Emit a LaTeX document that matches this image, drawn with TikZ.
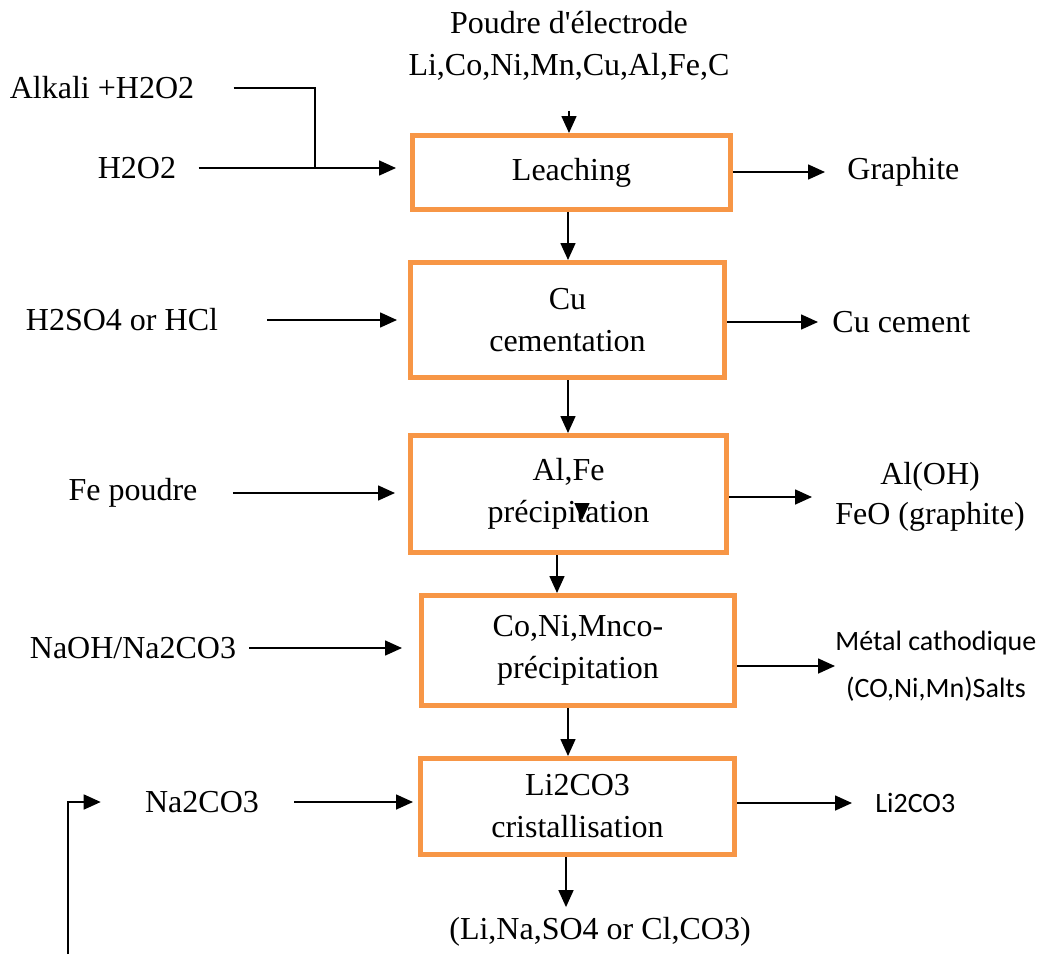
\documentclass[tikz,border=0pt]{standalone}
\usepackage{fontspec}
\setmainfont{Liberation Serif}
\newfontfamily\calibrifont{Carlito}
\usetikzlibrary{arrows.meta,positioning}
\definecolor{StageOrange}{HTML}{F79646}

\begin{document}
\begin{tikzpicture}[x=0.5pt, y=-0.5pt,
  stage/.style={draw=StageOrange, line width=2.5pt, align=center, inner sep=0pt, font=\fontsize{16}{21}\selectfont},
  chem/.style={align=center, inner sep=0pt, font=\fontsize{16}{21}\selectfont},
  chemsans/.style={align=center, inner sep=0pt, font=\calibrifont\fontsize{14}{23.5}\selectfont},
  flow/.style={-{Triangle[length=8.5pt,width=7.5pt]}, line width=0.8pt},
  feed/.style={line width=0.8pt}]
\useasboundingbox (0,0) rectangle (1050,954);
\node[stage, minimum width=159pt, minimum height=37pt] (leach) at (571.5,172.5) {Leaching};
\node[stage, minimum width=157pt, minimum height=57.5pt] (cement) at (567.5,320) {Cu\\cementation};
\node[stage, minimum width=158pt, minimum height=58.5pt] (alfe) at (568.5,494) {Al,Fe\\précipitation};
\node[stage, minimum width=156.5pt, minimum height=55pt] (coni) at (578,650.5) {Co,Ni,Mnco-\\précipitation};
\node[stage, minimum width=157pt, minimum height=48pt] (licr) at (577.5,806.5) {Li2CO3\\cristallisation};
\node[chem] (powder) at (569,46) {Poudre d\textquotesingle électrode\\Li,Co,Ni,Mn,Cu,Al,Fe,C};
\node[chem] (alkali) at (102,88) {Alkali +H2O2};
\node[chem] (h2o2) at (137,168) {H2O2};
\node[chem] (acid) at (122,320) {H2SO4 or HCl};
\node[chem] (fepowder) at (133,493) {Fe poudre};
\node[chem] (naoh) at (133,648) {NaOH/Na2CO3};
\node[chem] (soda) at (202,802) {Na2CO3};
\node[chem, anchor=west] (graphite) at (847,172) {Graphite};
\node[chem, anchor=west] (cucement) at (832,322) {Cu cement};
\node[chem, anchor=west, font=\fontsize{16}{20}\selectfont] (hydrox) at (835,497) {Al(OH)\\FeO (graphite)};
\node[chemsans, anchor=west] (cathode) at (835,666) {Métal cathodique\\(CO,Ni,Mn)Salts};
\node[chemsans, anchor=west] (lithium) at (875,803) {Li2CO3};
\node[chem] (liquor) at (600,932) {(Li,Na,SO4 or Cl,CO3)};
\coordinate (join) at (315,168);
\coordinate (recycle) at (68,954);
\coordinate (stubtop) at (582,503);
\coordinate (stubtip) at (582,520);
\draw[flow] ([yshift=-15pt]powder.south) -- (powder.south |- leach.north);
\draw[feed] ([xshift=19.5pt]alkali.east) -| (join);
\draw[flow, shorten >=7pt] ([xshift=11pt]h2o2.east) -- (h2o2.east -| leach.west);
\foreach \a/\b/\s in {leach/cement/-1.75pt, cement/alfe/0.25pt, alfe/coni/-5.75pt, coni/licr/-5pt}
  \draw[flow] ([xshift=\s]\a.south) -- ([xshift=\s]\a.south |- \b.north);
\foreach \src/\dst/\gap/\cut in {acid/cement/24.5pt/5.5pt, fepowder/alfe/17.5pt/6.5pt, naoh/coni/6.5pt/8.5pt, soda/licr/17.5pt/2.5pt}
  \draw[flow, shorten >=\cut] ([xshift=\gap]\src.east) -- (\src.east -| \dst.west);
\foreach \src/\dst/\cut in {leach/graphite/11pt, cement/cucement/7pt, alfe/hydrox/11.5pt, coni/cathode/0pt, licr/lithium/11.5pt}
  \draw[flow, shorten >=\cut] (\src.east |- \dst.west) -- (\dst.west);
\draw[flow, shorten >=5pt] ([xshift=-5.75pt]licr.south) -- ([xshift=-5.75pt]licr.south |- liquor.north);
\draw[flow, shorten >=22pt] (recycle) |- (soda.west);
\draw[flow] (stubtop) -- (stubtip);
\end{tikzpicture}
\end{document}
